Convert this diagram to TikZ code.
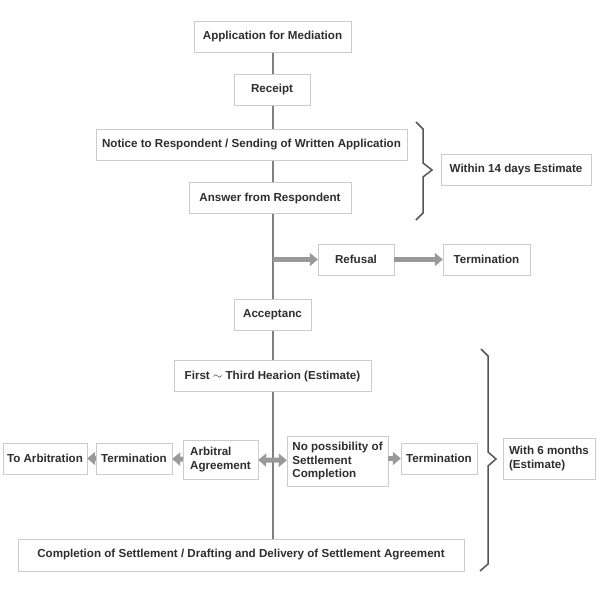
\documentclass[tikz,border=0pt]{standalone}
\usepackage{fontspec}
\setmainfont{Liberation Sans}
\usetikzlibrary{arrows.meta,shadows,backgrounds}

\definecolor{boxline}{HTML}{CCCCCC}
\definecolor{boxtext}{HTML}{2E2E2E}
\definecolor{flowgray}{HTML}{999999}
\definecolor{spinegray}{HTML}{808080}
\definecolor{bracegray}{HTML}{555555}

\tikzset{
	stepbox/.style={draw=boxline, fill=white, text=boxtext, inner sep=0pt,
		font=\bfseries\fontsize{11.6}{13.2}\selectfont, minimum height=31pt,
		drop shadow={shadow xshift=0.6pt, shadow yshift=-0.8pt, opacity=0.25, fill=black!60}},
	flowarrow/.style={draw=flowgray, line width=5pt, -{Triangle[length=8pt,width=13pt]}},
	bothflow/.style={flowarrow, {Triangle[length=8pt,width=13pt]}-{Triangle[length=8pt,width=13pt]}},
	bracket/.style={draw=bracegray, line width=1.5pt, line join=miter}
}

\begin{document}
\begin{tikzpicture}[x=1pt,y=-1pt]
\useasboundingbox (0,0) rectangle (600,600);

% main column
\node[stepbox, minimum width=157pt] (app) at (272.5,36.5) {Application for Mediation};
\node[stepbox, minimum width=76pt] (rec) at (272,89.5) {Receipt};
\node[stepbox, minimum width=311pt] (notice) at (251.5,144.5) {Notice to Respondent / Sending of Written Application};
\node[stepbox, minimum width=162pt] (ans) at (270,198) {Answer from Respondent};
\node[stepbox, minimum width=77pt] (acc) at (272.5,314.5) {Acceptanc};
\node[stepbox, minimum width=197pt] (hear) at (272.5,376) {First $\sim$ Third Hearion (Estimate)};
\node[stepbox, minimum width=446pt, minimum height=32pt] (done) at (241,555) {Completion of Settlement / Drafting and Delivery of Settlement Agreement};

% refusal branch
\node[stepbox, minimum width=76pt] (refusal) at (356,259.5) {Refusal};
\node[stepbox, minimum width=87pt] (endA) at (486.5,259.5) {Termination};

% hearing branches
\node[stepbox, minimum width=75pt, minimum height=39pt, align=left] (arb) at (220.5,459.5) {Arbitral\\Agreement};
\node[stepbox, minimum width=76pt] (endB) at (134,458.5) {Termination};
\node[stepbox, minimum width=84pt] (toarb) at (45,458.5) {To Arbitration};
\node[stepbox, minimum width=101pt, minimum height=50pt, align=left] (nop) at (337.5,461) {No possibility of\\Settlement\\Completion};
\node[stepbox, minimum width=76pt] (endC) at (439,458.5) {Termination};

% time estimates
\node[stepbox, minimum width=150pt] (within) at (516,169.5) {Within 14 days Estimate};
\node[stepbox, minimum width=92pt, minimum height=41pt, align=left] (six) at (549,458.5) {With 6 months\\(Estimate)};

\begin{scope}[on background layer]
\draw[spinegray, line width=2pt] (app) -- (app |- done.north);
\end{scope}

\coordinate (fork) at (app |- refusal);
\draw[flowarrow] (fork) -- (refusal.west);
\draw[flowarrow] (refusal) -- (endA);

\draw[bothflow] (arb) -- (nop);
\draw[flowarrow] (arb) -- (endB);
\draw[flowarrow] (endB) -- (toarb);
\draw[flowarrow] (nop.east |- endC) -- (endC);

% braces
\draw[bracket] (416,122) -- (423,129) -- (423,163) -- (432,170) -- (423,177) -- (423,213) -- (416,220);
\draw[bracket] (481,349) -- (488,356) -- (488,452) -- (496,459) -- (488,466) -- (488,564) -- (480,571);

\end{tikzpicture}
\end{document}
